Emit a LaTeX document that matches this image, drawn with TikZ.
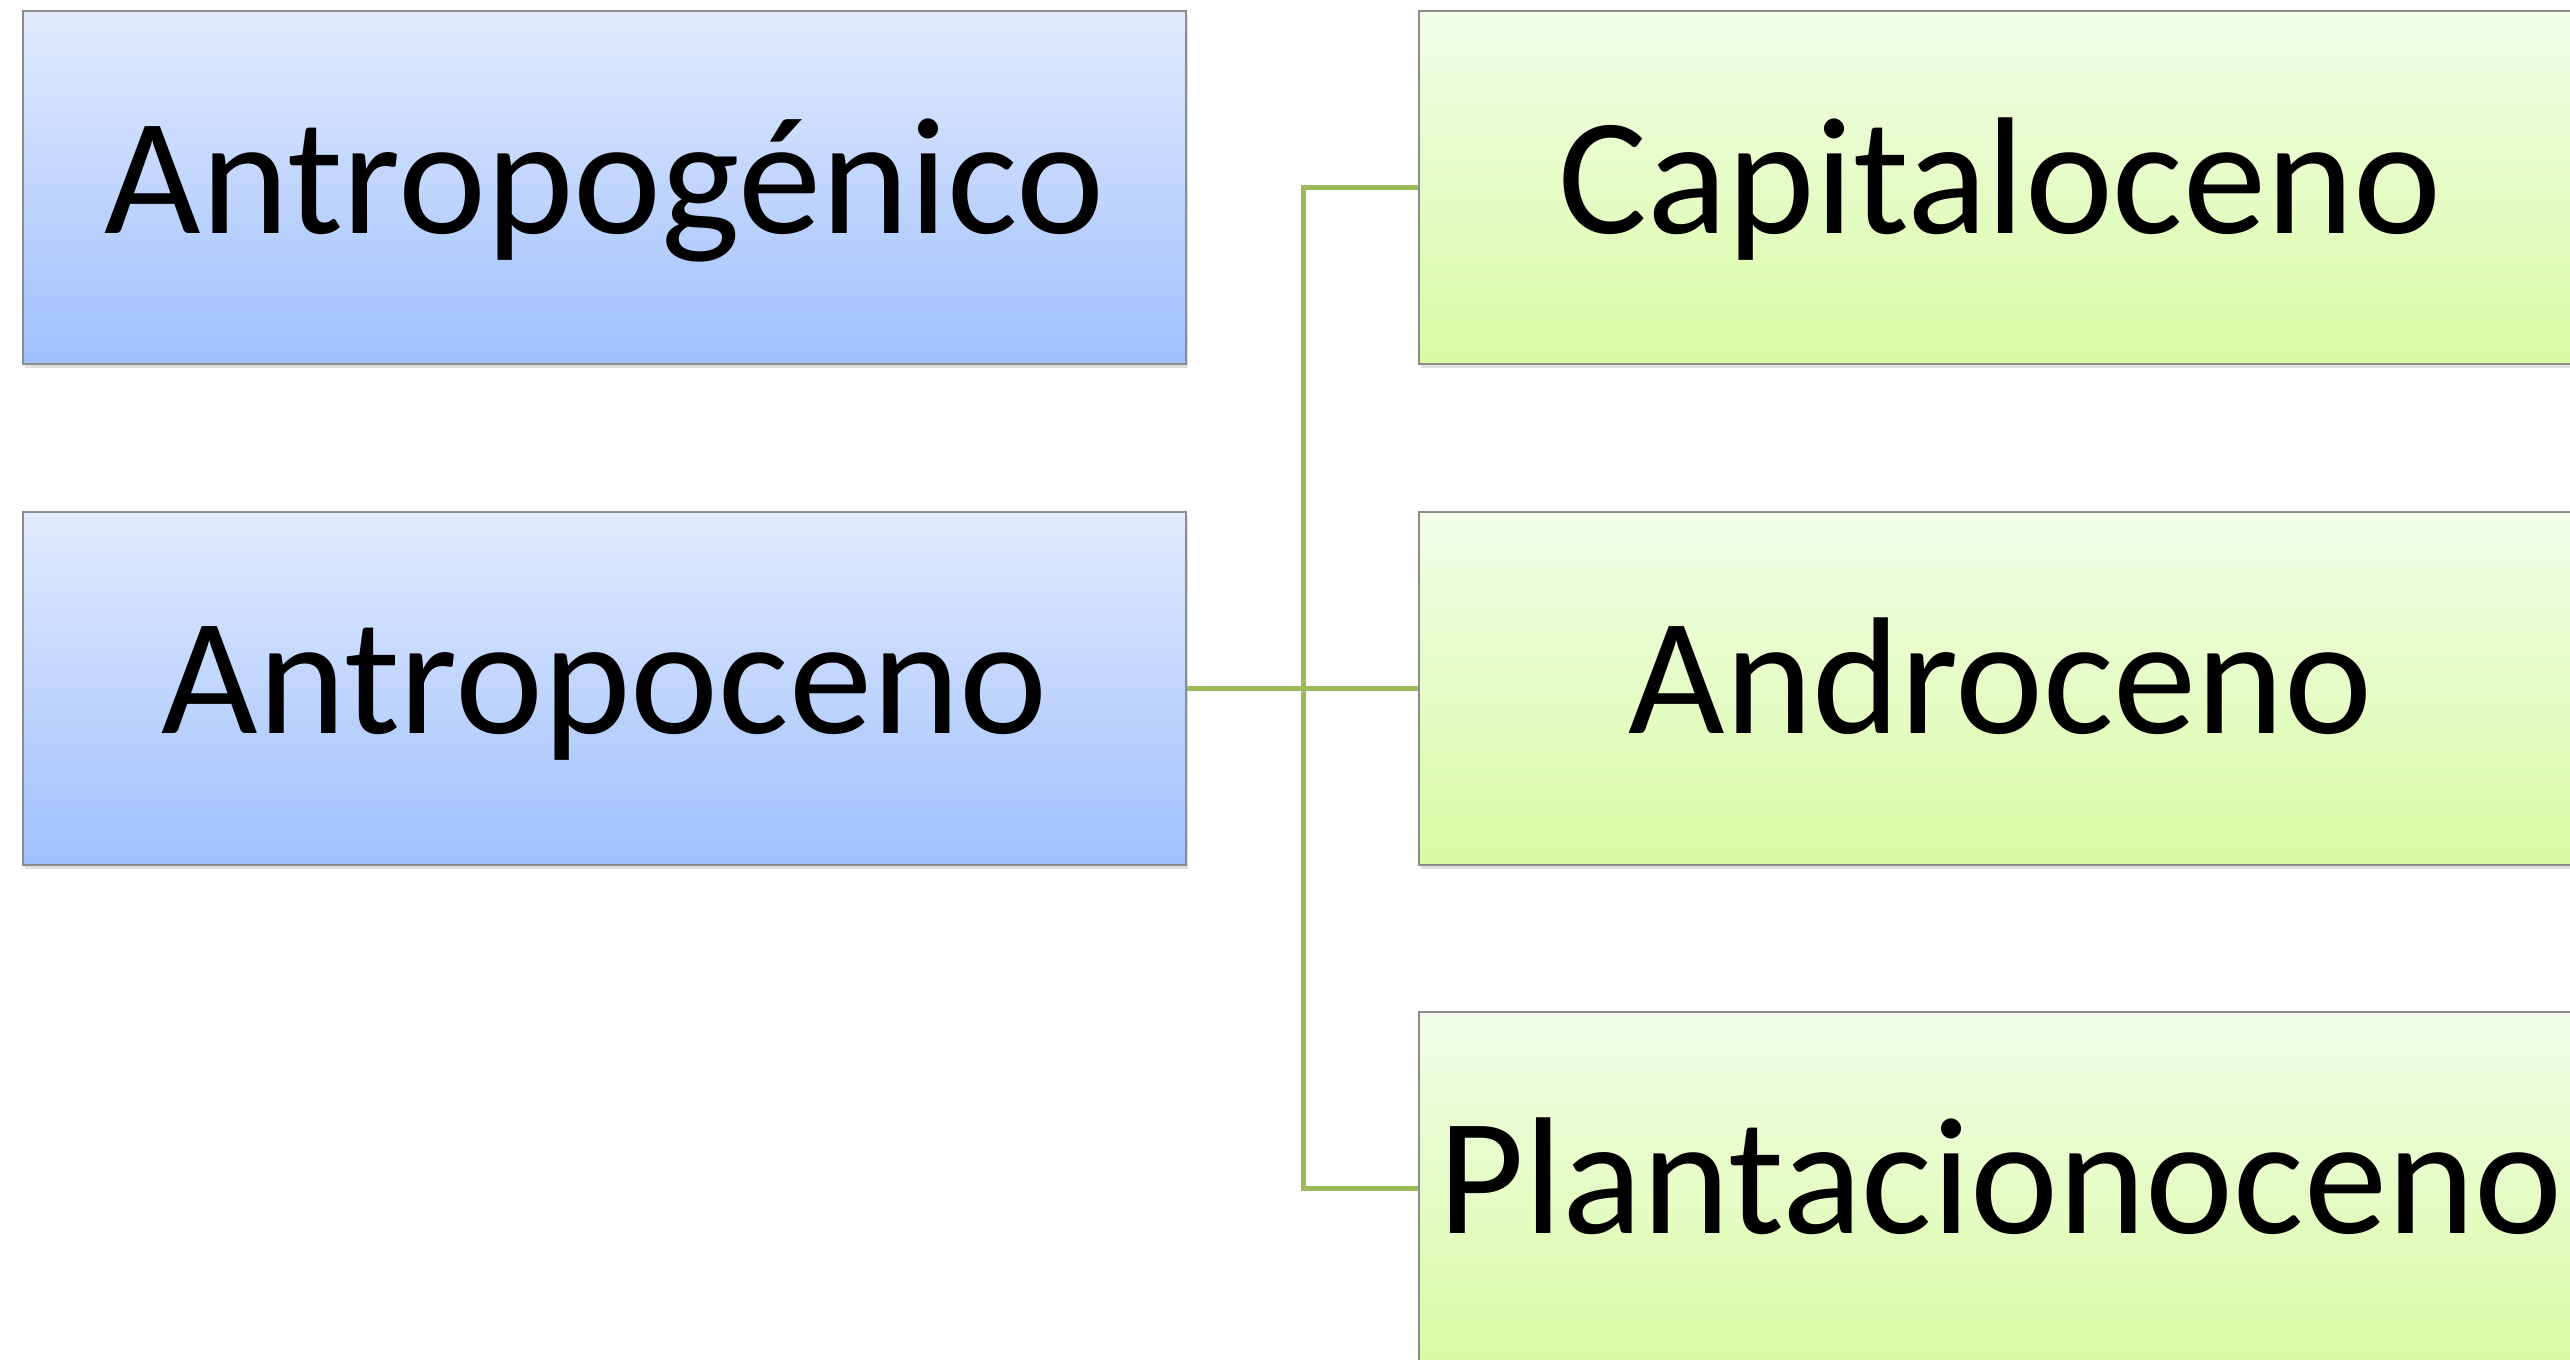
\documentclass[tikz,border=0pt]{standalone}
\usepackage{fontspec}
\setmainfont{Carlito}
\usetikzlibrary{shadows}
\definecolor{bluetop}{HTML}{E1EBFE}
\definecolor{bluebot}{HTML}{A0C0FE}
\definecolor{greentop}{HTML}{F3FDE8}
\definecolor{greenbot}{HTML}{D8FBA4}
\definecolor{boxline}{HTML}{8C8C8C}
\definecolor{conn}{HTML}{9BBB59}
\begin{document}
\begin{tikzpicture}[x=0.3pt,y=-0.3pt,
  box/.style={rectangle, draw=boxline, line width=0.6pt, inner sep=0pt,
    minimum width=348.9pt, minimum height=105.9pt,
    text height=36pt, text depth=8.7pt,
    font=\fontsize{50}{60}\selectfont,
    drop shadow={shadow xshift=0.5pt, shadow yshift=-1.2pt, opacity=0.25}},
  bluebox/.style={box, top color=bluetop, bottom color=bluebot},
  greenbox/.style={box, top color=greentop, bottom color=greenbot},
  link/.style={draw=conn, line width=1.5pt, line join=miter}]
\clip (0,0) rectangle (2570,1360);
\fill[white] (0,0) rectangle (2570,1360);
\node[bluebox] (a1) at (604.5,187.5) {Antropogénico};
\node[bluebox] (a2) at (604.5,688) {Antropoceno};
\node[greenbox] (g1) at (2000.5,187.5) {Capitaloceno};
\node[greenbox] (g2) at (2000.5,688) {Androceno};
\node[greenbox] (g3) at (2000.5,1188) {Plantacionoceno};
\coordinate (j) at (1303,688);
\draw[link] (a2.east) -- (g2.west);
\draw[link] (g1.west) -| (j) |- (g3.west);
\end{tikzpicture}
\end{document}
